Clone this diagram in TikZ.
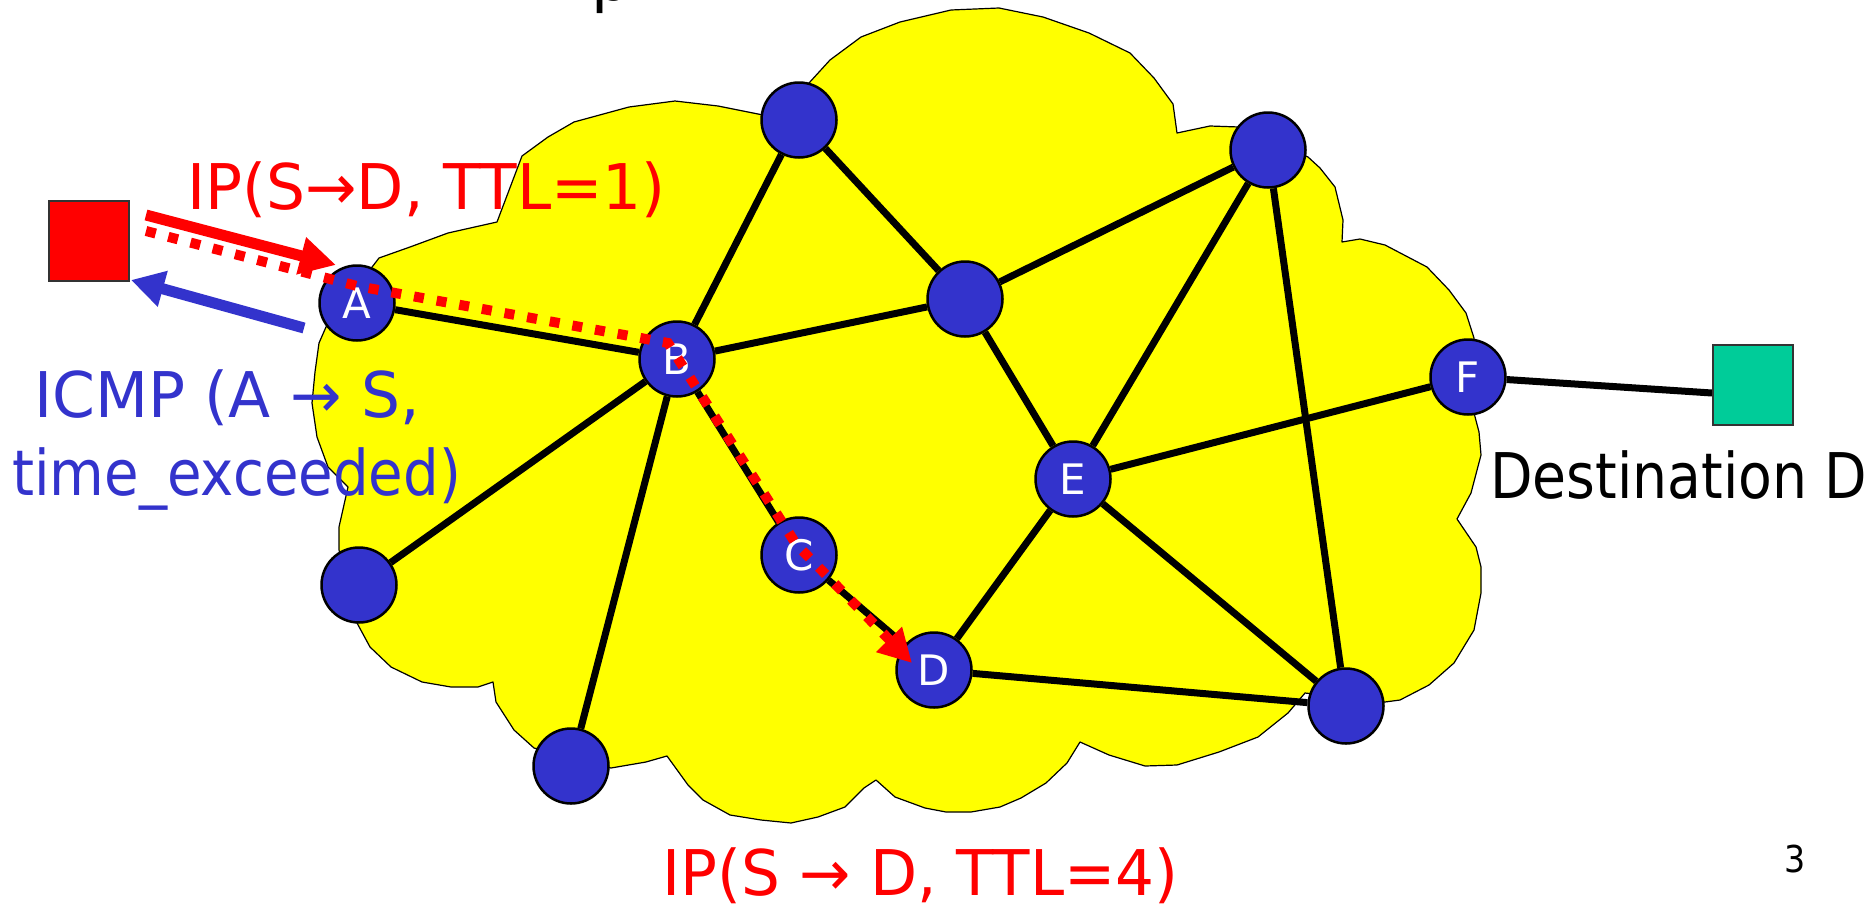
\documentclass[tikz,border=0pt]{standalone}
\usepackage{fontspec}
\setmainfont{DejaVu Sans}
\usetikzlibrary{arrows.meta}
\definecolor{nodeblue}{HTML}{3333CC}
\definecolor{dstgreen}{HTML}{00CC99}
\definecolor{cloudyellow}{HTML}{FFFF00}
\newcommand{\hs}[2]{\scalebox{#1}[1]{#2}}
\pgfdeclarelayer{back}
\pgfdeclarelayer{background}
\pgfsetlayers{back,background,main}
\tikzset{
  router/.style={circle, draw=black, line width=2.5pt, fill=nodeblue, minimum size=75pt, inner sep=0pt, text=white, font=\fontsize{42}{42}\selectfont},
  host/.style={rectangle, draw=black!80, line width=2pt, minimum width=80pt, minimum height=80pt, inner sep=0pt},
  edge/.style={line width=7pt, black},
  cloud/.style={fill=cloudyellow, draw=black, line width=1.2pt, line join=round},
  bigtext/.style={anchor=base west, inner sep=0pt, font=\fontsize{63}{76}\selectfont},
  redarrow/.style={draw=red, line width=11pt, -{Triangle[length=36pt,width=36pt]}},
  bluearrow/.style={draw=nodeblue, line width=11pt, -{Triangle[length=33pt,width=35pt]}},
  dotpath/.style={draw=red, line width=10pt, dash pattern=on 10pt off 13pt, -{Triangle[length=33pt,width=34pt]}}
}
\begin{document}
\begin{tikzpicture}[x=1pt,y=-1pt]
\useasboundingbox (0,0) rectangle (1876,908);
% cloud
\begin{pgfonlayer}{back}
\draw[cloud] (379,258) -- (410,247) -- (448,233) -- (497,222) -- (522,156) -- (548,137) -- (574,122) -- (629,107) -- (675,101) -- (718,106) -- (763,115)
 -- (809,83) -- (830,60) -- (861,37) -- (900,22) -- (951,10) -- (999,8) -- (1043,17) -- (1089,33) -- (1130,53) -- (1154,78) -- (1173,104) -- (1177,133) -- (1210,126) -- (1239,127)
 -- (1308,157) -- (1320,168) -- (1335,187) -- (1343,220) -- (1342,242) -- (1360,239) -- (1385,245) -- (1427,267) -- (1449,290) -- (1466,313) -- (1474,338)
 -- (1474,413) -- (1479,432) -- (1481,455) -- (1471,493) -- (1457,519) -- (1476,547) -- (1481,567) -- (1481,593) -- (1474,630) -- (1454,663) -- (1429,685) -- (1400,700) -- (1385,702)
 -- (1305,693) -- (1288,713) -- (1258,737) -- (1219,752) -- (1177,765) -- (1145,766) -- (1109,755) -- (1080,742) -- (1067,763) -- (1046,783) -- (1021,798) -- (1000,807) -- (971,812) -- (946,812) -- (925,808) -- (895,797) -- (876,780) -- (864,788) -- (845,807) -- (818,817) -- (791,823) -- (761,820) -- (730,815) -- (703,800) -- (688,785) -- (667,756) -- (646,762) -- (611,768)
 -- (534,748) -- (514,730) -- (496,702) -- (493,682) -- (478,687) -- (451,687) -- (422,682) -- (391,667) -- (370,647) -- (357,623)
 -- (339,550) -- (339,527) -- (348,487) -- (328,467) -- (317,437) -- (312,403) -- (315,372) -- (319,343) -- (326,327) -- cycle;
\end{pgfonlayer}
% hosts
\node[host, fill=red] (S) at (89,241) {};
\node[host, fill=dstgreen] (Dst) at (1753,385) {};
% routers
\node[router] (A) at (357,303) {A};
\node[router] (B) at (677,359) {B};
\node[router] (T1) at (799,120) {};
\node[router] (M) at (965,299) {};
\node[router] (T2) at (1268,150) {};
\node[router] (F) at (1468,377) {F};
\node[router] (E) at (1073,479) {E};
\node[router] (C) at (799,555) {C};
\node[router] (D) at (934,670) {D};
\node[router] (BR) at (1346,706) {};
\node[router] (L) at (359,585) {};
\node[router] (B2) at (571,766) {};
% links
\begin{pgfonlayer}{background}
\draw[edge] (A) -- (B);
\draw[edge] (B) -- (T1);
\draw[edge] (T1) -- (M);
\draw[edge] (B) -- (M);
\draw[edge] (M) -- (T2);
\draw[edge] (M) -- (E);
\draw[edge] (T2) -- (E);
\draw[edge] (T2) -- (BR);
\draw[edge] (E) -- (F);
\draw[edge] (F) -- ([yshift=-8pt]Dst.west);
\draw[edge] (E) -- (D);
\draw[edge] (E) -- (BR);
\draw[edge] (D) -- (BR);
\draw[edge] (B) -- (C);
\draw[edge] (C) -- (D);
\draw[edge] (B) -- (L);
\draw[edge] (B) -- (B2);
\end{pgfonlayer}
% packet paths
\coordinate (sa0) at (146,215);
\coordinate (sa1) at (336,265);
\coordinate (ba0) at (304,328);
\coordinate (ba1) at (131,280);
\coordinate (d0) at (146,231);
\coordinate (d1) at (357,286);
\coordinate (d2) at (668,343);
\coordinate (d3) at (796,544);
\coordinate (d4) at (912,663);
\draw[redarrow] (sa0) -- (sa1);
\draw[bluearrow] (ba0) -- (ba1);
\draw[dotpath] (d0) -- (d1) -- (d2) -- (d3) -- (d4);
% labels
\node[bigtext, text=red] (lab1) at (187,209) {\hs{0.975}{IP(S→D, TTL=1)}};
\node[bigtext, text=nodeblue] (lab2) at (34,417) {\hs{0.975}{ICMP (A → S,}};
\node[bigtext, text=nodeblue] (lab3) at (12,495) {\hs{0.892}{time\_exceeded)}};
\node[bigtext, text=black] (lab4) at (1490,498) {\hs{0.877}{Destination D}};
\node[bigtext, text=red] (lab5) at (662,895) {\hs{0.972}{IP(S → D, TTL=4)}};
\node[anchor=base west, inner sep=0pt, font=\fontsize{37}{44}\selectfont] (pg) at (1784,872) {\hs{0.9}{3}};
\begin{scope}
\clip (0,0) rectangle (1876,908);
\node[bigtext, text=black] (ttl) at (591,0) {p};
\end{scope}
\end{tikzpicture}
\end{document}
